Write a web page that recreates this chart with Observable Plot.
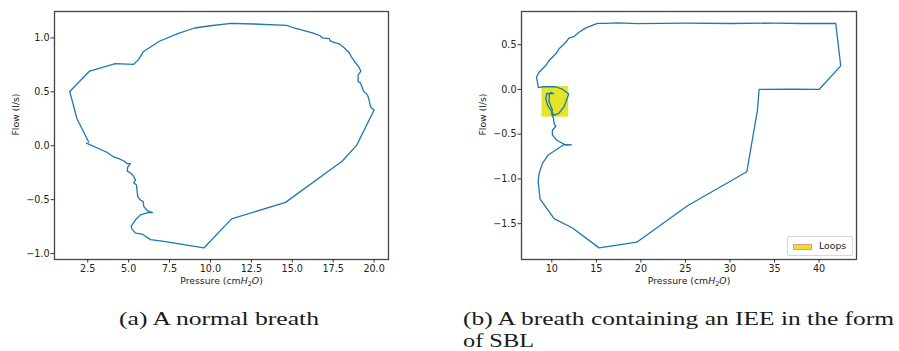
<!DOCTYPE html>
<html><head><meta charset="utf-8">
<script src="https://cdn.jsdelivr.net/npm/d3@7"></script>
<script src="https://cdn.jsdelivr.net/npm/@observablehq/plot@0.6"></script>
<style>
body{margin:0;background:#fff;}
#wrap{position:relative;width:899px;height:351px;overflow:hidden;background:#fff;}
#pa{position:absolute;left:0;top:0;}
#pb{position:absolute;left:450px;top:0;}
#cap{position:absolute;left:0;top:0;pointer-events:none;}
#legend{position:absolute;left:787px;top:236px;width:64px;height:18px;border:1px solid #d8d8d8;border-radius:2px;background:rgba(255,255,255,0.85);font-family:"DejaVu Sans";font-size:9.3px;color:#222;}
#legend .patch{position:absolute;left:5px;top:7px;width:17px;height:4px;background:#e4e526;border:1px solid #f2908a;}
#legend .lab{position:absolute;left:31px;top:3px;line-height:12px;}
</style></head>
<body>
<div id="wrap">
  <svg id="cap" width="899" height="351"></svg>
  <div id="pa"></div>
  <div id="pb"></div>
  <div id="legend"><span class="patch"></span><span class="lab">Loops</span></div>
</div>
<script>
// ---- data ----
const normalPressure = [2.42,3.64,4.09,4.40,4.74,4.91,5.11,4.95,4.91,5.15,5.31,5.42,5.31,5.48,5.52,5.56,5.72,5.89,5.93,6.14,6.46,6.23,5.72,5.42,5.21,5.15,5.21,5.42,5.82,6.34,7.15,9.60,11.29,14.59,18.06,18.94,20.0,19.80,19.66,19.59,19.35,19.15,19.02,19.02,19.19,19.09,18.82,18.62,18.48,18.17,17.86,17.45,17.31,17.25,16.85,16.70,16.23,15.11,14.66,12.66,11.27,10.0,9.03,8.00,6.88,5.89,5.62,5.31,4.19,2.62,1.40,1.85,2.56];
const normalFlow = [0.025,-0.058,-0.104,-0.12,-0.144,-0.166,-0.166,-0.196,-0.233,-0.258,-0.282,-0.319,-0.344,-0.365,-0.426,-0.472,-0.503,-0.518,-0.564,-0.601,-0.620,-0.617,-0.641,-0.687,-0.733,-0.748,-0.773,-0.810,-0.819,-0.871,-0.886,-0.948,-0.678,-0.525,-0.141,0.006,0.331,0.356,0.442,0.472,0.509,0.586,0.595,0.656,0.693,0.724,0.779,0.822,0.862,0.908,0.945,0.963,0.975,0.994,1.0,1.02,1.046,1.092,1.117,1.129,1.135,1.113,1.092,1.04,0.969,0.871,0.801,0.755,0.761,0.693,0.503,0.248,0.034];

const sblPressure = [8.28,8.57,9.33,9.70,10.45,10.82,11.57,11.94,12.50,13.06,13.82,15.13,16.06,17.4,19.6,25,30,35,38,41.87,42.43,40.0,37,33.27,33.08,31.89,25.23,19.54,15.31,12.32,10.26,8.69,8.47,8.58,8.95,9.59,11.38,12.21,11.57,10.56,10.07,10.07,10.45,10.26,10.19,9.97,10.08,9.70,9.70,9.89,10.19,9.44,9.33,9.52,9.89,10.26,10.82,11.38,11.9,11.23,10.45,8.96,8.5,8.28];
const sblFlow = [0.137,0.193,0.268,0.323,0.398,0.454,0.527,0.576,0.591,0.639,0.688,0.739,0.739,0.745,0.735,0.74,0.737,0.741,0.737,0.737,0.263,0.0,0.002,0.0,-0.233,-0.919,-1.30,-1.707,-1.770,-1.548,-1.444,-1.226,-1.03,-0.937,-0.826,-0.733,-0.615,-0.619,-0.622,-0.567,-0.511,-0.456,-0.411,-0.379,-0.323,-0.268,-0.231,-0.137,-0.064,-0.033,-0.045,-0.045,-0.100,-0.175,-0.231,-0.290,-0.265,-0.193,-0.05,0.0,0.030,0.030,0.02,0.137];

const loopBoxes = [{x1: 8.9, x2: 11.9, y1: -0.31, y2: 0.033, label: "Loops"}];

const normalXTicks = [2.5,5,7.5,10,12.5,15,17.5,20];
const normalYTicks = [-1,-0.5,0,0.5,1];
const sblXTicks = [10,15,20,25,30,35,40];
const sblYTicks = [-1.5,-1,-0.5,0,0.5];

const xLabel = "Pressure (cmH2O)";
const yLabel = "Flow (l/s)";
const captionA = "(a) A normal breath";
const captionB1 = "(b) A breath containing an IEE in the form";
const captionB2 = "of SBL";

// ---- drawing ----
const fmt1 = d => d.toFixed(1).replace("-", "\u2212");
const fmt0 = d => d.toFixed(0).replace("-", "\u2212");
const toRows = (P, F) => P.map((p, i) => ({p, f: F[i]}));

function panel({rows, xDomain, yDomain, xTicks, yTicks, xFmt, width, marginLeft, marginRight, boxes}) {
  const marks = [];
  if (boxes) marks.push(Plot.rect(boxes, {x1: "x1", x2: "x2", y1: "y1", y2: "y2", fill: "#e4e526"}));
  marks.push(
    Plot.line(rows, {x: "p", y: "f", stroke: "#1f77b4", strokeWidth: 1.3, curve: "linear"}),
    Plot.frame({stroke: "#444", strokeWidth: 1.3}),
    Plot.axisX(xTicks, {tickSize: 3.5, tickPadding: 2, tickFormat: xFmt, stroke: "#333", label: null, fontSize: 9.6}),
    Plot.axisY(yTicks, {tickSize: 3.5, tickPadding: 1.5, tickFormat: fmt1, stroke: "#333", label: null, fontSize: 9.6}),
    Plot.text([xLabel], {frameAnchor: "bottom", dy: 24, text: d => d, fontSize: 9.3, fill: "#222"}),
    Plot.text([yLabel], {frameAnchor: "left", dx: -38, rotate: -90, text: d => d, fontSize: 9.3, fill: "#222"})
  );
  return Plot.plot({
    width, height: 290, marginTop: 11, marginBottom: 31, marginLeft, marginRight,
    x: {domain: xDomain}, y: {domain: yDomain},
    style: {fontFamily: "DejaVu Sans", fontSize: "9.6px", color: "#222", background: "transparent"},
    marks
  });
}

const a = panel({rows: toRows(normalPressure, normalFlow), xDomain: [0.47, 20.88], yDomain: [-1.055, 1.245],
  xTicks: normalXTicks, yTicks: normalYTicks, xFmt: fmt1, width: 450, marginLeft: 54, marginRight: 62});
const b = panel({rows: toRows(sblPressure, sblFlow), xDomain: [6.6, 44.2], yDomain: [-1.9, 0.871],
  xTicks: sblXTicks, yTicks: sblYTicks, xFmt: fmt0, width: 449, marginLeft: 71, marginRight: 43, boxes: loopBoxes});
document.getElementById("pa").append(a);
document.getElementById("pb").append(b);

// subscript/italics in the x label
for (const svg of [a, b]) {
  d3.select(svg).selectAll("text").filter(function() { return this.textContent === xLabel; })
    .each(function() {
      const t = d3.select(this);
      t.text(null);
      t.append("tspan").text("Pressure (cm");
      t.append("tspan").attr("font-style", "italic").text("H");
      t.append("tspan").attr("font-size", "6.5").attr("dy", "2.5").text("2");
      t.append("tspan").attr("font-style", "italic").attr("dy", "-2.5").text("O");
      t.append("tspan").text(")");
    });
}

// captions
const cap = d3.select("#cap");
const capStyle = s => s.attr("font-family", "Liberation Serif").attr("font-size", 18.5).attr("fill", "#1a1a1a")
  .attr("lengthAdjust", "spacingAndGlyphs");
cap.append("text").attr("x", 119).attr("y", 325).attr("textLength", 200).text(captionA).call(capStyle);
cap.append("text").attr("x", 463).attr("y", 325).attr("textLength", 431).text(captionB1).call(capStyle);
cap.append("text").attr("x", 463).attr("y", 347).attr("textLength", 71).text(captionB2).call(capStyle);
</script>
</body></html>
